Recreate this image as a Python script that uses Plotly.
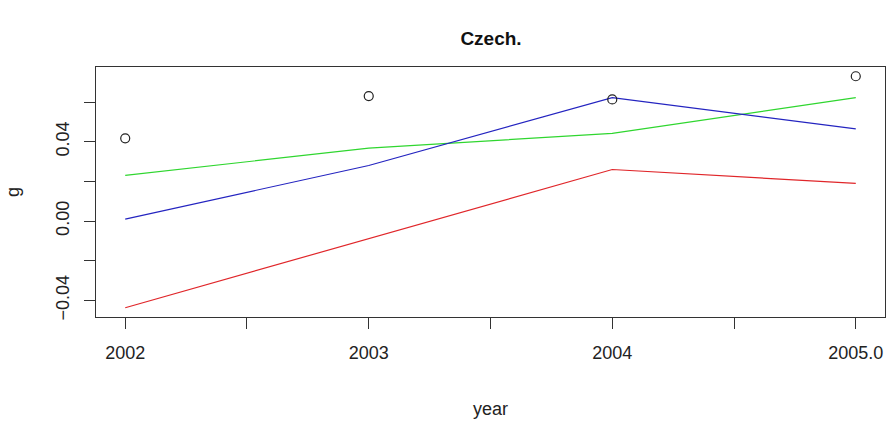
import plotly.graph_objects as go

years = [2002, 2003, 2004, 2005]
observed = [0.0417, 0.0630, 0.0613, 0.0730]
fit_green = [0.0230, 0.0368, 0.0442, 0.0622]
fit_blue = [0.0010, 0.0280, 0.0622, 0.0465]
fit_red = [-0.0437, -0.0089, 0.0260, 0.0190]

x_tickvals = [2002, 2002.5, 2003, 2003.5, 2004, 2004.5, 2005]
x_ticktext = ["2002", "", "2003", "", "2004", "", "2005.0"]
y_tickvals = [-0.04, -0.02, 0.0, 0.02, 0.04, 0.06]
y_ticktext = ["\u22120.04", "", "0.00", "", "0.04", ""]

FONT = "Liberation Sans, Arial, sans-serif"

fig = go.Figure()
for vals, col in [(fit_red, "#e0262a"), (fit_green, "#2fd62f"), (fit_blue, "#2424c0")]:
    fig.add_trace(go.Scatter(x=years, y=vals, mode="lines",
                             line=dict(color=col, width=1.2), showlegend=False))
fig.add_trace(go.Scatter(x=years, y=observed, mode="markers",
                         marker=dict(symbol="circle-open", size=9,
                                     color="#222222", line=dict(width=1.2)),
                         showlegend=False))

# 4% padding of the data range, as in base R graphics
xmin, xmax = min(years), max(years)
xpad = 0.04 * (xmax - xmin)
allv = observed + fit_green + fit_blue + fit_red
ymin, ymax = min(allv), max(allv)
ypad = 0.04 * (ymax - ymin)

axis_common = dict(showgrid=False, zeroline=False, showline=True, mirror=True,
                   linecolor="#333333", linewidth=1.3, ticks="outside",
                   ticklen=11, tickwidth=1.2, tickcolor="#333333",
                   tickfont=dict(family=FONT, size=18, color="#222222"))

fig.update_layout(
    width=892, height=421,
    paper_bgcolor="white", plot_bgcolor="white",
    margin=dict(l=96, r=6, t=67, b=102),
    title=dict(text="<b>Czech.</b>", x=(96 + 886) / 2 / 892, xanchor="center",
               y=1 - 38 / 421, yanchor="middle",
               font=dict(family=FONT, size=19, color="#111111")),
    xaxis=dict(range=[xmin - xpad, xmax + xpad], tickvals=x_tickvals,
               ticktext=x_ticktext, ticklabelstandoff=8,
               title=dict(text="year", font=dict(family=FONT, size=18, color="#222222"),
                          standoff=40),
               **axis_common),
    yaxis=dict(range=[ymin - ypad, ymax + ypad], tickvals=y_tickvals,
               ticktext=y_ticktext, tickangle=-90, ticklabelstandoff=8,
               title=dict(text="g", font=dict(family=FONT, size=18, color="#222222"),
                          standoff=28),
               **axis_common),
)

fig.write_html("out.html")
